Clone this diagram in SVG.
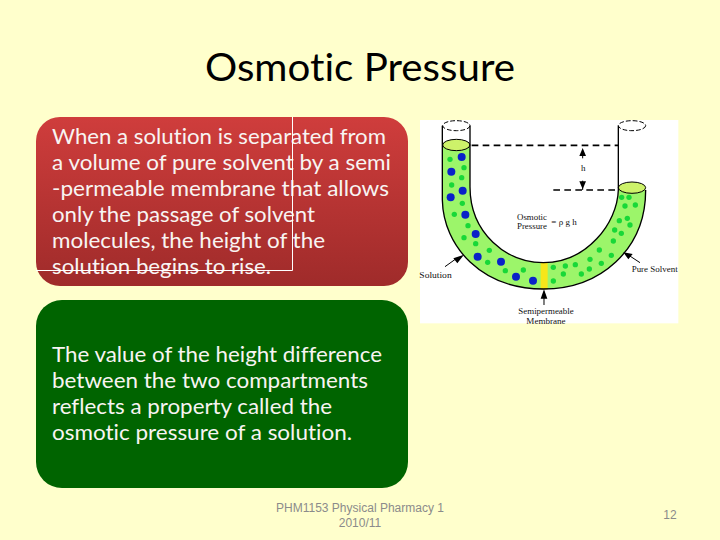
<svg xmlns="http://www.w3.org/2000/svg" width="720" height="540" viewBox="0 0 720 540">
<style>
text{font-variant-ligatures:none}
.body{font-family:Lato,Carlito,"Open Sans",sans-serif;font-size:21.3px;fill:#f8f4f2}
.foot{font-family:"Liberation Sans",Arial,sans-serif;font-size:12px;fill:#8b8b8b;text-anchor:middle}
.lab{font-family:"Liberation Serif",serif;font-size:27px;fill:#111}
.sm{font-size:24px}
.tube{fill:none;stroke:#000;stroke-width:4}
.dash{fill:none;stroke:#000;stroke-width:5;stroke-dasharray:20 13}
.b{fill:#0a22c8}.g{fill:#18d838}
.hd{fill:#000}.thin{fill:none;stroke:#000;stroke-width:3}
</style>
<defs>
<linearGradient id="red" x1="0" y1="0" x2="0" y2="1"><stop offset="0" stop-color="#cf3d3c"/><stop offset="1" stop-color="#9f2b2a"/></linearGradient>
</defs>
<rect width="720" height="540" fill="#ffffcc"/>
<text x="360" y="81" font-family="Lato,Carlito,sans-serif" font-size="39.5" fill="#000" text-anchor="middle" textLength="310" lengthAdjust="spacingAndGlyphs">Osmotic Pressure</text>
<g id="node-solution-text">
<rect x="36" y="117" width="372" height="169" rx="24" fill="url(#red)"/>
<text class="body" x="52" y="144" textLength="334" lengthAdjust="spacingAndGlyphs">When a solution is separated from</text>
<text class="body" x="52" y="170" textLength="339" lengthAdjust="spacingAndGlyphs">a volume of pure solvent by a semi</text>
<text class="body" x="52" y="196" textLength="337" lengthAdjust="spacingAndGlyphs">-permeable membrane that allows</text>
<text class="body" x="52" y="222" textLength="263" lengthAdjust="spacingAndGlyphs">only the passage of solvent</text>
<text class="body" x="52" y="248" textLength="273" lengthAdjust="spacingAndGlyphs">molecules, the height of the</text>
<text class="body" x="52" y="274" textLength="219" lengthAdjust="spacingAndGlyphs">solution begins to rise.</text>
<path d="M292.500 117V270.500H36" fill="none" stroke="#fff" stroke-width="1"/>
</g>
<g id="node-value-text">
<rect x="36" y="300" width="372" height="188" rx="26" fill="#006400"/>
<text class="body" x="52" y="362" textLength="330" lengthAdjust="spacingAndGlyphs">The value of the height difference</text>
<text class="body" x="52" y="388" textLength="316" lengthAdjust="spacingAndGlyphs">between the two compartments</text>
<text class="body" x="52" y="414" textLength="280" lengthAdjust="spacingAndGlyphs">reflects a property called the</text>
<text class="body" x="52" y="440" textLength="300" lengthAdjust="spacingAndGlyphs">osmotic pressure of a solution.</text>
</g>
<g id="node-utube" transform="translate(410 110) scale(.33333)">
<rect x="30" y="30" width="775" height="610" fill="#fff"/>
<path d="M97 105V270C100 410 215 537 400 537C570 537 707 420 707 240L625 240C622 340 530 458 400 458C290 458 180 370 180 230V105Z" fill="#9cf56a"/>
<rect x="392" y="457" width="21" height="81" fill="#f6e61a"/>
<ellipse cx="139" cy="105" rx="41" ry="17" fill="#cdf26a" stroke="#000" stroke-width="3"/>
<ellipse cx="666" cy="233" rx="41" ry="17" fill="#cdf26a" stroke="#000" stroke-width="3"/>
<ellipse cx="139" cy="47" rx="41" ry="15" fill="none" stroke="#000" stroke-width="3" stroke-dasharray="14 6"/>
<ellipse cx="666" cy="47" rx="41" ry="15" fill="none" stroke="#000" stroke-width="3" stroke-dasharray="14 6"/>
<path class="tube" d="M97 47V270C100 410 215 537 400 537C570 537 707 420 707 240"/>
<path class="tube" d="M180 47V230C180 370 290 458 400 458C530 458 622 340 625 240V47"/>
<circle class="b" cx="155" cy="141" r="12"/><circle class="b" cx="124" cy="185" r="12"/><circle class="b" cx="158" cy="242" r="12"/><circle class="b" cx="122" cy="262" r="12"/><circle class="b" cx="166" cy="314" r="12"/><circle class="b" cx="197" cy="372" r="12"/><circle class="b" cx="203" cy="440" r="12"/><circle class="b" cx="273" cy="455" r="12"/><circle class="b" cx="318" cy="500" r="12"/><circle class="b" cx="369" cy="512" r="12"/>
<g class="g"><circle cx="120" cy="148" r="8"/><circle cx="162" cy="173" r="8"/><circle cx="155" cy="203" r="8"/><circle cx="125" cy="225" r="8"/><circle cx="157" cy="280" r="8"/><circle cx="133" cy="313" r="8"/><circle cx="174" cy="347" r="8"/><circle cx="162" cy="383" r="8"/><circle cx="197" cy="401" r="8"/><circle cx="238" cy="421" r="8"/><circle cx="233" cy="457" r="8"/><circle cx="286" cy="482" r="8"/><circle cx="340" cy="480" r="8"/><circle cx="430" cy="472" r="8"/><circle cx="466" cy="468" r="8"/><circle cx="496" cy="464" r="8"/><circle cx="540" cy="448" r="8"/><circle cx="568" cy="420" r="8"/><circle cx="604" cy="436" r="8"/><circle cx="574" cy="460" r="8"/><circle cx="538" cy="477" r="8"/><circle cx="514" cy="492" r="8"/><circle cx="460" cy="492" r="8"/><circle cx="430" cy="513" r="8"/><circle cx="610" cy="393" r="8"/><circle cx="634" cy="370" r="8"/><circle cx="614" cy="360" r="8"/><circle cx="660" cy="345" r="8"/><circle cx="652" cy="325" r="8"/><circle cx="628" cy="332" r="8"/><circle cx="676" cy="285" r="8"/><circle cx="645" cy="288" r="8"/><circle cx="635" cy="262" r="8"/><circle cx="657" cy="262" r="8"/></g>
</g>
<g id="connectors" transform="translate(410 110) scale(.33333)">
<path class="dash" d="M185 106H625M430 240H625"/>
<path class="thin" d="M518 120V145M518 212V240M105 470L140 445M690 458L655 435M402 585V545"/>
<path class="hd" d="M518 114L508 138H528ZM518 238L508 214H528ZM162 434L130 445L142 460ZM640 427L668 432L655 448ZM402 538L392 566H412Z"/>
</g>
<g id="labels" transform="translate(410 110) scale(.33333)">
<text class="lab" x="520" y="183" text-anchor="middle">h</text>
<text class="lab" x="321" y="329" textLength="90" lengthAdjust="spacingAndGlyphs">Osmotic</text>
<text class="lab" x="321" y="357" textLength="90" lengthAdjust="spacingAndGlyphs">Pressure</text>
<text class="lab" x="424" y="345" textLength="76" lengthAdjust="spacingAndGlyphs">= ρ g h</text>
<text class="lab" x="28" y="503" textLength="97" lengthAdjust="spacingAndGlyphs">Solution</text>
<text class="lab" x="665" y="485" textLength="138" lengthAdjust="spacingAndGlyphs">Pure Solvent</text>
<text class="lab sm" x="408" y="612" text-anchor="middle" textLength="166" lengthAdjust="spacingAndGlyphs">Semipermeable</text>
<text class="lab sm" x="408" y="641" text-anchor="middle" textLength="118" lengthAdjust="spacingAndGlyphs">Membrane</text>
</g>
<text class="foot" x="360" y="512">PHM1153 Physical Pharmacy 1</text>
<text class="foot" x="360" y="527">2010/11</text>
<text class="foot" x="670" y="519">12</text>
</svg>
